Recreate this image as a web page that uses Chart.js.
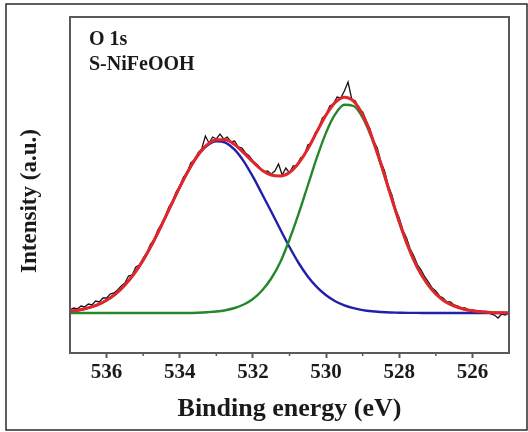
<!DOCTYPE html>
<html>
<head>
<meta charset="utf-8">
<script src="https://cdn.jsdelivr.net/npm/chart.js@4.4.1/dist/chart.umd.min.js"></script>
<style>
  html, body { margin: 0; padding: 0; background: #fff; }
  canvas { display: block; }
</style>
</head>
<body>
<canvas id="xps" width="528" height="432"></canvas>
<script>
// fitted components, read every 0.25 eV
const fitEnergy = [537.0, 536.75, 536.5, 536.25, 536.0, 535.75, 535.5, 535.25, 535.0, 534.75,
  534.5, 534.25, 534.0, 533.75, 533.5, 533.25, 533.0, 532.75, 532.5, 532.25,
  532.0, 531.75, 531.5, 531.25, 531.0, 530.75, 530.5, 530.25, 530.0, 529.75,
  529.5, 529.25, 529.0, 528.75, 528.5, 528.25, 528.0, 527.75, 527.5, 527.25,
  527.0, 526.75, 526.5, 526.25, 526.0, 525.75, 525.5, 525.25, 525.0]

const peakBlue = [1.8, 3.0, 5.1, 8.2, 12.8, 19.2, 27.9, 39.1, 52.9, 69.2,
  87.5, 106.8, 125.9, 143.3, 157.7, 167.5, 171.8, 170.4, 163.4, 151.7,
  136.3, 119.0, 101.5, 83.5, 66.0, 50.0, 36.5, 25.8, 17.7, 11.8,
  7.6, 4.8, 2.9, 1.7, 1.0, 0.5, 0.3, 0.1, 0.1, 0,
  0, 0, 0, 0, 0, 0, 0, 0, 0]

const peakGreen = [0, 0, 0, 0, 0, 0, 0, 0, 0, 0,
  0, 0, 0, 0, 0.3, 0.8, 1.5, 2.8, 5.0, 8.5,
  14.0, 22.5, 34.5, 51.0, 73.5, 99.3, 127.5, 155.6, 180.4, 198.8,
  208.2, 207.0, 195.3, 174.6, 148.1, 119.1, 90.8, 65.6, 45.0, 30.0,
  19.0, 11.5, 7.0, 4.0, 2.2, 1.2, 0.6, 0.3, 0.1]

const envelope = [1.8, 3.0, 5.1, 8.2, 12.8, 19.2, 27.9, 39.1, 52.9, 69.2,
  87.5, 106.8, 125.9, 143.3, 158.0, 168.3, 173.3, 173.2, 168.4, 160.2,
  151.0, 142.8, 138.0, 137.0, 140.5, 150.0, 164.0, 181.4, 198.1, 210.6,
  215.8, 211.8, 198.2, 176.3, 149.1, 119.6, 91.1, 65.7, 45.1, 30.0,
  19.0, 11.5, 7.0, 4.0, 2.2, 1.2, 0.6, 0.3, 0.1]

// measured spectrum, read every 0.1 eV
const rawEnergy = [537.0, 536.9, 536.8, 536.7, 536.6, 536.5, 536.4, 536.3, 536.2, 536.1,
  536.0, 535.9, 535.8, 535.7, 535.6, 535.5, 535.4, 535.3, 535.2, 535.1,
  535.0, 534.9, 534.8, 534.7, 534.6, 534.5, 534.4, 534.3, 534.2, 534.1,
  534.0, 533.9, 533.8, 533.7, 533.6, 533.5, 533.4, 533.3, 533.2, 533.1,
  533.0, 532.9, 532.8, 532.7, 532.6, 532.5, 532.4, 532.3, 532.2, 532.1,
  532.0, 531.9, 531.8, 531.7, 531.6, 531.5, 531.4, 531.3, 531.2, 531.1,
  531.0, 530.9, 530.8, 530.7, 530.6, 530.5, 530.4, 530.3, 530.2, 530.1,
  530.0, 529.9, 529.8, 529.7, 529.6, 529.5, 529.4, 529.3, 529.2, 529.1,
  529.0, 528.9, 528.8, 528.7, 528.6, 528.5, 528.4, 528.3, 528.2, 528.1,
  528.0, 527.9, 527.8, 527.7, 527.6, 527.5, 527.4, 527.3, 527.2, 527.1,
  527.0, 526.9, 526.8, 526.7, 526.6, 526.5, 526.4, 526.3, 526.2, 526.1,
  526.0, 525.9, 525.8, 525.7, 525.6, 525.5, 525.4, 525.3, 525.2, 525.1,
  525.0]

const rawCounts = [3, 5, 4, 7, 6, 9, 8, 12, 11, 15,
  15, 19, 20, 23, 27, 30, 37, 38, 46, 48,
  55, 60, 69, 73, 83, 89, 96, 106, 111, 121,
  127, 136, 140, 150, 153, 160, 164, 177, 170, 176,
  174, 179, 174, 176, 171, 172, 166, 165, 160, 157,
  152, 149, 145, 141, 142, 139, 142, 149, 138, 145,
  140, 147, 147, 155, 157, 168, 170, 180, 185, 195,
  198, 207, 209, 216, 215, 222, 231, 214, 212, 204,
  201, 192, 184, 172, 165, 151, 142, 127, 118, 104,
  95, 83, 75, 64, 57, 48, 43, 36, 31, 25,
  22, 17, 15, 11, 11, 8, 7, 5, 5, 3,
  3, 2, 2, 0, 1, -1, -2, -5, -1, -2,
  0]

const majorTicks = [526, 528, 530, 532, 534, 536]
const minorTicks = [527, 529, 531, 533, 535]

const serif = '"Liberation Serif", "DejaVu Serif", serif'
const axisGray = '#5a5a5a'

const toPoints = (xs, ys) => xs.map((x, i) => ({ x: x, y: ys[i] }))

const decorations = {
  id: 'decorations',
  afterDatasetsDraw(chart) {
    const { ctx, chartArea: a, scales: { x } } = chart
    ctx.save()
    ctx.strokeStyle = axisGray
    ctx.lineWidth = 2
    ctx.strokeRect(a.left, a.top, a.right - a.left, a.bottom - a.top)
    ctx.lineWidth = 1.5
    minorTicks.forEach(v => {
      const px = x.getPixelForValue(v)
      ctx.beginPath()
      ctx.moveTo(px, a.bottom)
      ctx.lineTo(px, a.bottom + 3)
      ctx.stroke()
    })

    ctx.fillStyle = '#1a1a1a'
    ctx.font = 'bold 20px ' + serif
    ctx.textAlign = 'left'
    ctx.textBaseline = 'alphabetic'
    ctx.fillText('O 1s', 89, 45)
    ctx.fillText('S-NiFeOOH', 89, 70)

    ctx.font = 'bold 23px ' + serif
    ctx.textAlign = 'center'
    ctx.textBaseline = 'middle'
    ctx.translate(30, 201)
    ctx.rotate(-Math.PI / 2)
    ctx.fillText('Intensity (a.u.)', 0, 0)
    ctx.restore()

    ctx.save()
    ctx.strokeStyle = '#2a2a2a'
    ctx.lineWidth = 1.5
    ctx.strokeRect(6, 4, 521, 426)
    ctx.restore()
  }
}

new Chart(document.getElementById('xps'), {
  type: 'line',
  data: {
    datasets: [
      { data: toPoints(fitEnergy, envelope), borderColor: '#e3262b', borderWidth: 3, cubicInterpolationMode: 'monotone' },
      { data: toPoints(fitEnergy, peakGreen), borderColor: '#24882b', borderWidth: 2.4, cubicInterpolationMode: 'monotone' },
      { data: toPoints(fitEnergy, peakBlue), borderColor: '#2020a8', borderWidth: 2.4, cubicInterpolationMode: 'monotone' },
      { data: toPoints(rawEnergy, rawCounts), borderColor: '#151515', borderWidth: 1.3, tension: 0 }
    ]
  },
  options: {
    responsive: false,
    animation: false,
    devicePixelRatio: 1,
    layout: { padding: { left: 70, right: 19, top: 17, bottom: 0 } },
    elements: { point: { radius: 0 } },
    plugins: { legend: { display: false }, tooltip: { enabled: false } },
    scales: {
      x: {
        type: 'linear',
        min: 525,
        max: 537,
        reverse: true,
        afterFit: s => { s.height = 79 },
        afterBuildTicks: s => { s.ticks = majorTicks.map(v => ({ value: v })) },
        border: { display: false },
        grid: { drawOnChartArea: false, drawTicks: true, tickLength: 5, tickWidth: 2, tickColor: axisGray },
        ticks: {
          color: '#1a1a1a',
          padding: 2,
          font: { family: serif, size: 21, weight: 'bold' },
          callback: v => String(v)
        },
        title: {
          display: true,
          text: 'Binding energy (eV)',
          color: '#1a1a1a',
          padding: { top: 0, bottom: 7 },
          font: { family: serif, size: 26, weight: 'bold' }
        }
      },
      y: { display: false, min: -40, max: 296 }
    }
  },
  plugins: [decorations]
})
</script>
</body>
</html>
